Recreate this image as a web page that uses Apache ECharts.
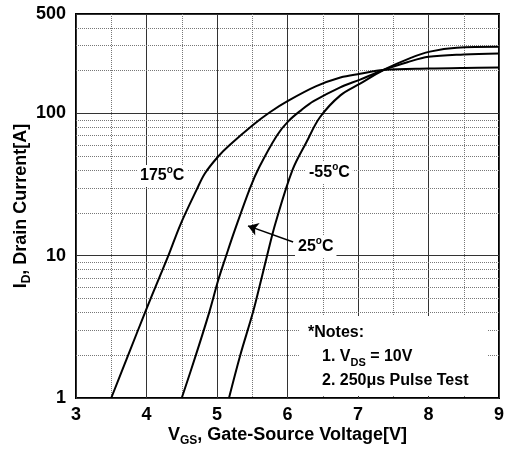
<!DOCTYPE html>
<html><head><meta charset="utf-8">
<script src="https://cdn.jsdelivr.net/npm/echarts@6/dist/echarts.min.js"></script>
<style>html,body{margin:0;padding:0;background:#fff}#c{width:505px;height:456px}</style>
</head><body><div id="c"></div>
<script>
// Transfer characteristics: [Vgs (V), Id (A)]
const curve175 = [[3.5,1],[3.74,2.0],[3.98,4.0],[4.17,6.8],[4.31,10],[4.48,16.5],[4.71,29],[4.83,38],[5.02,50],[5.18,60],[5.51,83],[5.75,102],[6.0,122],[6.4,155],[6.75,179],[7.03,190],[7.36,202],[8.0,207],[8.5,209],[9.0,210]];
const curve25 = [[4.5,1],[4.7,2],[4.89,4],[5.02,6.8],[5.13,10],[5.25,15],[5.47,30],[5.6,42],[5.85,70],[6.01,88],[6.2,106],[6.37,122],[6.74,152],[7.03,173],[7.36,202],[7.7,229],[8.0,250],[8.5,260],[9.0,264]];
const curveM55 = [[5.17,1],[5.33,2],[5.51,4],[5.63,6.9],[5.71,10],[5.83,17],[6.07,40],[6.27,63],[6.46,94],[6.75,134],[7.03,162],[7.36,202],[7.74,245],[8.02,272],[8.4,290],[9.0,294]];
const minorGridY = [2,3,4,5,6,7,8,9,20,30,40,50,60,70,80,90,200,300,400];
const arrow25 = [[6.08,12.5],[5.44,16.2]];
const xTitle = 'V{sub|GS}, Gate-Source Voltage[V]';
const yTitle = 'I{sub|D}, Drain Current[A]';

const FONT = "'Liberation Sans', Arial, sans-serif";
const chart = echarts.init(document.getElementById('c'), null, {renderer:'canvas'});
const rich = {
  sup:{fontSize:10, fontWeight:'bold', fontFamily:FONT, verticalAlign:'top', color:'#000'},
  sub:{fontSize:11, fontWeight:'bold', fontFamily:FONT, verticalAlign:'bottom', color:'#000'}
};
const richT = {
  sub:{fontSize:12, fontWeight:'bold', fontFamily:FONT, verticalAlign:'bottom', color:'#000'}
};
function lbl(x, y, text, bg){
  return {type:'text', x:x, y:y, z:100, style:{text:text, align:'left', verticalAlign:'middle',
    font:'bold 16px ' + FONT, fill:'#000', lineHeight:22, rich:rich,
    backgroundColor: bg ? '#fff' : null, padding: bg ? [0,3] : 0}};
}
const curveStyle = {color:'#000', width:2};
const lineCommon = {type:'line', showSymbol:false, smooth:0.35, lineStyle:curveStyle, z:5};
chart.setOption({
  animation:false,
  backgroundColor:'#fff',
  grid:{left:76, right:6, top:14, bottom:58, outerBoundsMode:'none', containLabel:false,
    show:true, borderColor:'#000', borderWidth:2, backgroundColor:'#fff'},
  xAxis:{type:'value', min:3, max:9, interval:1,
    name:xTitle, nameLocation:'middle', nameGap:25, nameMoveOverlap:false,
    nameTextStyle:{fontSize:18, fontWeight:'bold', fontFamily:FONT, color:'#000', lineHeight:24, rich:richT},
    axisLine:{show:false}, axisTick:{show:false},
    axisLabel:{fontSize:18, fontWeight:'bold', fontFamily:FONT, color:'#000', margin:8},
    splitLine:{show:true, lineStyle:{color:'#333', width:1}},
    minorTick:{show:false, splitNumber:2},
    minorSplitLine:{show:true, lineStyle:{color:'#777', type:'dotted', width:1}}
  },
  yAxis:{type:'log', logBase:10, min:1, max:500,
    name:yTitle, nameLocation:'middle', nameGap:43, nameRotate:90, nameMoveOverlap:false,
    nameTextStyle:{fontSize:18, fontWeight:'bold', fontFamily:FONT, color:'#000', lineHeight:24, rich:richT},
    axisLine:{show:false}, axisTick:{show:false},
    axisLabel:{fontSize:18, fontWeight:'bold', fontFamily:FONT, color:'#000', margin:10, showMaxLabel:true},
    splitLine:{show:true, lineStyle:{color:'#333', width:1}}
  },
  series:[
    {type:'line', data:[], z:1, silent:true,
      markLine:{silent:true, symbol:['none','none'], label:{show:false}, animation:false,
        lineStyle:{color:'#777', type:'dotted', width:1},
        data: minorGridY.map(v => ({yAxis:v}))}},
    Object.assign({name:'175', data:curve175}, lineCommon),
    Object.assign({name:'25', data:curve25,
      markLine:{silent:true, symbol:['none','arrow'], symbolSize:10, label:{show:false}, animation:false,
        lineStyle:{color:'#000', type:'solid', width:1.5},
        data:[[{coord:arrow25[0]},{coord:arrow25[1]}]]}}, lineCommon),
    Object.assign({name:'-55', data:curveM55}, lineCommon)
  ],
  graphic:[
    {type:'rect', z:90, shape:{x:300, y:316, width:187, height:80}, style:{fill:'#fff'}},
    lbl(137, 176, '175{sup|o}C', true),
    lbl(306, 173, '-55{sup|o}C', true),
    lbl(295, 247, '25{sup|o}C', true),
    lbl(308, 333, '*Notes:', false),
    lbl(322, 357, '1. V{sub|DS} = 10V', false),
    lbl(322, 381, '2. 250\u03bcs Pulse Test', false)
  ]
});
</script></body></html>
